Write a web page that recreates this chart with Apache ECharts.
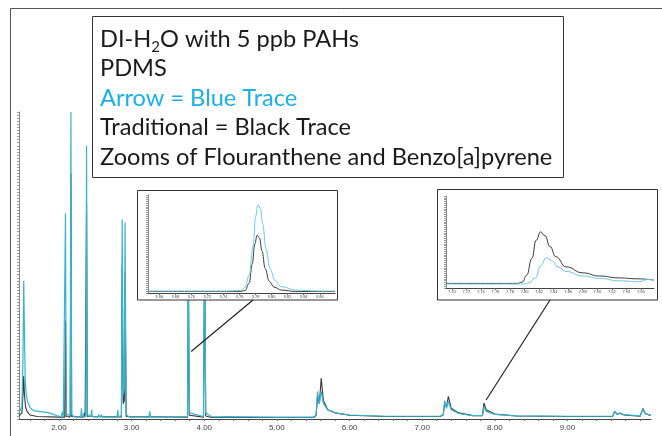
<!DOCTYPE html>
<html><head><meta charset="utf-8">
<script src="https://cdn.jsdelivr.net/npm/echarts@6/dist/echarts.min.js"></script>
<style>html,body{margin:0;padding:0;background:#fff}#c{width:662px;height:436px}</style>
</head><body><div id="c"></div>
<script>
// ---- Data (retention time in minutes, relative abundance) ----
const mainLabelValues = [2, 3, 4, 5, 6, 7, 8, 9];
const mainTickValues = [1.6,1.8,2.0,2.2,2.4,2.6,2.8,3.0,3.2,3.4,3.6,3.8,4.0,4.2,4.4,4.6,4.8,5.0,5.2,5.4,5.6,5.8,6.0,6.2,6.4,6.6,6.8,7.0,7.2,7.4,7.6,7.8,8.0,8.2,8.4,8.6,8.8,9.0,9.2,9.4,9.6,9.8,10.0];
const zoom1LabelValues = [3.66,3.68,3.70,3.72,3.74,3.76,3.78,3.80,3.82,3.84,3.86,3.88];
const zoom2LabelValues = [7.70,7.72,7.74,7.76,7.78,7.80,7.82,7.84,7.86,7.88,7.90,7.92,7.94,7.96];

const arrowTrace = [
 [1.45,2],[1.49,4],[1.505,20],[1.515,45],[1.525,28],[1.535,13],[1.55,8],[1.57,5.5],[1.60,3.8],[1.65,2.7],[1.75,2.4],[1.85,2.1],[1.92,1.6],[1.98,1.0],[2.03,0.7],[2.045,2.3],[2.06,0.8],[2.08,1],[2.09,67],[2.10,1.5],[2.155,1.2],[2.165,100],[2.175,1.5],[2.22,0.6],[2.30,0.8],[2.31,3.5],[2.32,0.8],[2.37,1],[2.38,89],[2.39,1.5],[2.44,0.8],[2.45,3],[2.46,0.8],[2.54,0.6],[2.55,1.5],[2.56,0.6],[2.58,0.6],[2.59,1.3],[2.60,0.6],[2.80,0.6],[2.81,3],[2.82,0.8],[2.86,1],[2.87,65],[2.885,8],[2.90,10],[2.91,64],[2.925,1.5],[2.95,1.6],[2.97,0.6],[3.24,0.6],[3.25,2.5],[3.26,0.6],[3.77,0.8],[3.78,72],[3.795,2],[3.99,0.8],[4.005,70],[4.02,2],[4.10,0.7],[4.32,0.8],[4.33,1.3],[4.34,0.7],[5.0,0.6],[5.52,0.6],[5.54,1.5],[5.56,9],[5.585,5],[5.61,9],[5.64,5],[5.70,3],[5.80,2],[6.0,1.3],[6.5,0.9],[7.25,0.9],[7.29,1.5],[7.31,6],[7.335,3.5],[7.36,5.7],[7.40,3],[7.5,1.8],[7.7,1.1],[7.83,1.2],[7.85,4],[7.88,2.5],[8.0,1.5],[8.3,1],[9.0,0.9],[9.62,0.9],[9.65,2.5],[9.685,1.6],[9.72,2],[9.78,1.4],[10.0,1.0],[10.04,3.2],[10.07,1.8],[10.15,1.2]
];
const traditionalTrace = [
 [1.45,1],[1.49,2],[1.505,8],[1.515,14],[1.525,8],[1.54,4],[1.56,2.5],[1.60,1.3],[1.70,0.8],[2.0,0.6],[2.08,0.6],[2.09,32],[2.10,0.8],[2.155,0.7],[2.165,80],[2.175,0.8],[2.34,0.6],[2.35,2],[2.36,0.6],[2.37,0.7],[2.38,70],[2.39,0.8],[2.86,0.7],[2.87,50],[2.885,5],[2.90,6],[2.91,48],[2.925,0.8],[3.77,0.6],[3.78,47],[3.795,1.2],[3.99,0.6],[4.005,55],[4.02,1],[4.1,0.5],[5.5,0.5],[5.54,1.2],[5.56,7.4],[5.585,5],[5.61,13.3],[5.64,6],[5.70,3],[5.80,2],[6.0,1.2],[6.5,0.8],[7.25,0.8],[7.29,1.4],[7.31,5],[7.335,4],[7.36,7.4],[7.40,3.5],[7.5,2],[7.7,1.1],[7.83,1.1],[7.85,5.2],[7.88,3],[8.0,1.6],[8.3,1],[9.0,0.8],[9.62,0.8],[9.65,2.4],[9.685,1.5],[9.72,1.9],[9.78,1.3],[10.0,0.9],[10.04,3.4],[10.07,1.8],[10.15,1.1]
];
// Zoom of Fluoranthene
const arrowZoom1 = [[3.646,2],[3.70,2],[3.74,2],[3.762,2.5],[3.767,6],[3.772,18],[3.777,48],[3.780,78],[3.783,90],[3.786,86],[3.789,70],[3.793,45],[3.798,25],[3.804,13],[3.812,6.5],[3.83,3],[3.86,2],[3.879,2]];
const traditionalZoom1 = [[3.646,1.5],[3.70,1.5],[3.76,1.5],[3.767,2.5],[3.772,10],[3.776,30],[3.779,50],[3.782,59],[3.785,56],[3.788,43],[3.792,25],[3.797,12],[3.803,6],[3.812,3],[3.83,1.5],[3.879,1.5]];
// Zoom of Benzo[a]pyrene
const traditionalZoom2 = [[7.692,5],[7.75,5],[7.79,5],[7.797,6.5],[7.803,14],[7.810,32],[7.816,52],[7.822,61],[7.828,57],[7.835,45],[7.843,34],[7.857,23],[7.88,16.5],[7.903,13],[7.93,11],[7.955,10],[7.978,8.6]];
const arrowZoom2 = [[7.692,4.3],[7.75,4.3],[7.80,4.3],[7.806,5.5],[7.815,11],[7.822,24],[7.830,33],[7.837,30],[7.846,23],[7.857,18],[7.880,13],[7.903,10.5],[7.930,7.8],[7.957,6.8],[7.970,9.2],[7.978,9]];

const textLines = ['DI-H|2|O with 5 ppb PAHs', 'PDMS', 'Arrow = Blue Trace', 'Traditional = Black Trace', 'Zooms of Flouranthene and Benzo[a]pyrene'];
const textColors = ['#1a1a1a', '#1a1a1a', '#1ab0e8', '#1a1a1a', '#1a1a1a'];

// ---- Style ----
const BLUE = '#35b4d3', BLACK = '#383838';
const FONT = 'Lato', FS = 23.6, SUB_FS = 15;

const chart = echarts.init(document.getElementById('c'), null, {renderer: 'canvas'});

function lineSeries(name, data, xi, color, z, w, smooth) {
  return {name, type: 'line', xAxisIndex: xi, yAxisIndex: xi, data, showSymbol: false, symbol: 'none',
    smooth: smooth || false, smoothMonotone: 'x', z, animation: false,
    lineStyle: {color, width: w}};
}
function axisX(gi, min, max, labels, ticks, fs, z) {
  return {type: 'value', gridIndex: gi, min, max, z,
    axisLine: {show: true, lineStyle: {color: '#444', width: 1}},
    axisTick: {show: true, length: 2, inside: false, customValues: ticks, lineStyle: {color: '#666'}},
    axisLabel: {show: true, customValues: labels, fontSize: fs, color: '#444', margin: gi === 0 ? 5 : 2,
      fontFamily: 'Liberation Sans', formatter: v => v.toFixed(2)},
    splitLine: {show: false}};
}
function axisY(gi, z, iv) {
  return {type: 'value', gridIndex: gi, min: 0, max: 100, interval: iv, z,
    axisLine: {show: true, lineStyle: {color: '#888', width: 1}},
    axisTick: {show: true, length: 2, lineStyle: {color: '#999'}},
    axisLabel: {show: false}, splitLine: {show: false}};
}

const option = {
  backgroundColor: '#fff',
  animation: false,
  grid: [
    {left: 19, top: 112, width: 632, height: 307},
    {left: 148, top: 195, width: 187, height: 98, z: 20},
    {left: 446, top: 196, width: 208, height: 92, z: 20}
  ],
  xAxis: [
    axisX(0, 1.45, 10.15, mainLabelValues, mainTickValues, 8, 0),
    axisX(1, 3.646, 3.879, zoom1LabelValues, zoom1LabelValues, 4, 20),
    axisX(2, 7.692, 7.978, zoom2LabelValues, zoom2LabelValues, 4, 20)
  ],
  yAxis: [axisY(0, 0, 1), axisY(1, 20, 2), axisY(2, 20, 2)],
  series: [
    lineSeries('Traditional', traditionalTrace, 0, BLACK, 2, 1.1),
    lineSeries('Arrow', arrowTrace, 0, BLUE, 3, 1.2),
    lineSeries('Traditional zoom 1', traditionalZoom1, 1, '#3c3c3c', 21, 1, 0.4),
    lineSeries('Arrow zoom 1', arrowZoom1, 1, '#6cc9e2', 22, 1, 0.4),
    lineSeries('Traditional zoom 2', traditionalZoom2, 2, '#3c3c3c', 21, 1, 0.5),
    lineSeries('Arrow zoom 2', arrowZoom2, 2, '#6cc9e2', 22, 1, 0.5)
  ]
};
chart.setOption(option);

// ---- Annotations ----
const ctx = document.createElement('canvas').getContext('2d');
function textW(t, fs) { ctx.font = fs + 'px ' + FONT; return ctx.measureText(t).width; }

const els = [];
// outer frame
els.push({type: 'polyline', z: 0, shape: {points: [[10.5, 436], [10.5, 8.5], [662, 8.5]]},
  style: {stroke: '#555', lineWidth: 1, fill: null}});
// text box
els.push({type: 'rect', z: 10, shape: {x: 92.5, y: 16.5, width: 471, height: 161},
  style: {fill: '#fff', stroke: '#333', lineWidth: 1}});
textLines.forEach((ln, i) => {
  const yc = 39 + i * 29.6;
  const parts = ln.split('|');
  let x = 100;
  parts.forEach((p, j) => {
    const sub = j % 2 === 1;
    const fs = sub ? SUB_FS : FS;
    els.push({type: 'text', z: 11, x, y: sub ? yc + 8 : yc,
      style: {text: p, fill: textColors[i], font: fs + 'px ' + FONT, verticalAlign: 'middle'}});
    x += textW(p, fs);
  });
});
// inset boxes
els.push({type: 'rect', z: 10, shape: {x: 137.5, y: 190.5, width: 200, height: 109.5},
  style: {fill: '#fff', stroke: '#333', lineWidth: 1}});
els.push({type: 'rect', z: 10, shape: {x: 437.5, y: 189.5, width: 220, height: 110.5},
  style: {fill: '#fff', stroke: '#333', lineWidth: 1}});
// connectors: inset box bottom -> peak in main chromatogram
const p1 = chart.convertToPixel({gridIndex: 0}, [3.82, 22]);
const p2 = chart.convertToPixel({gridIndex: 0}, [7.88, 6.2]);
els.push({type: 'line', z: 30, shape: {x1: 253, y1: 300, x2: p1[0], y2: p1[1]}, style: {stroke: '#222', lineWidth: 1.2}});
els.push({type: 'line', z: 30, shape: {x1: 550, y1: 300, x2: p2[0], y2: p2[1]}, style: {stroke: '#222', lineWidth: 1.2}});
chart.setOption({graphic: {elements: els}});
</script></body></html>
